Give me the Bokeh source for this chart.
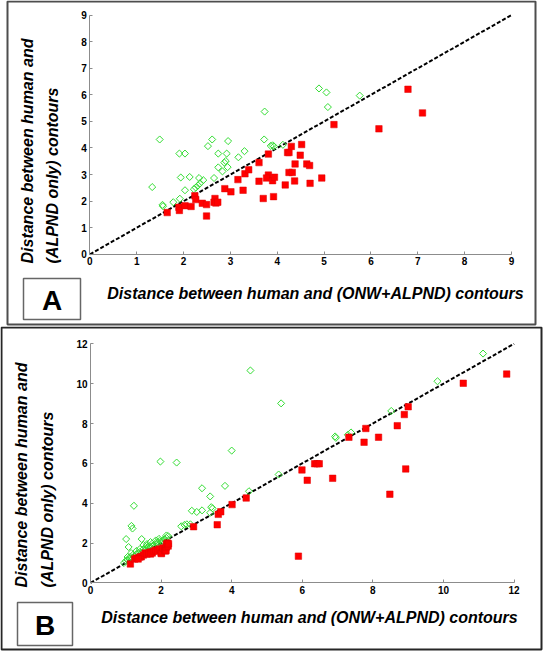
import math
from bokeh.plotting import figure
from bokeh.models import Range1d, FixedTicker, Label, BoxAnnotation
from bokeh.layouts import column
from bokeh.embed import file_html
from bokeh.resources import INLINE

# ---------------- data ----------------
a_ticks = [0, 1, 2, 3, 4, 5, 6, 7, 8, 9]
b_ticks = [0, 2, 4, 6, 8, 10, 12]

a_red_x = [1.65, 1.90, 1.91, 2.03, 2.16, 2.24, 2.26, 2.40, 2.49, 2.49, 2.67, 2.65, 2.69, 2.73,
           2.88, 3.01, 3.16, 3.27, 3.31, 3.39, 3.61, 3.61, 3.70, 3.81, 3.81, 3.77, 3.90, 3.94,
           3.92, 4.17, 4.22, 4.25, 4.30, 4.52, 4.49, 4.38, 4.37, 4.25, 4.32, 4.63, 4.69, 4.70,
           4.95, 5.21, 6.17, 6.79, 7.10]
a_red_y = [1.57, 1.77, 1.65, 1.83, 1.80, 2.20, 2.06, 1.92, 1.87, 1.44, 2.10, 1.96, 1.93, 1.96,
           2.47, 2.35, 2.81, 2.41, 3.03, 3.18, 3.45, 2.75, 2.10, 3.77, 2.98, 2.87, 2.77, 2.90,
           2.17, 2.61, 3.83, 3.83, 4.06, 4.13, 3.73, 3.40, 2.76, 3.08, 3.08, 3.40, 3.34, 2.67,
           2.87, 4.88, 4.72, 6.21, 5.32]

a_green_x = [1.33, 1.49, 1.55, 1.56, 1.78, 1.91, 2.03, 1.92, 1.94, 2.03, 2.13, 2.22, 2.26, 2.31,
             2.35, 2.33, 2.42, 2.52, 2.61, 2.65, 2.74, 2.74, 2.83, 2.87, 2.90, 2.92, 2.94, 2.95,
             3.17, 3.30, 3.72, 3.73, 3.86, 3.90, 3.93, 4.12, 4.89, 5.05, 5.08, 5.76]
a_green_y = [2.53, 4.32, 1.86, 1.81, 1.96, 3.79, 3.79, 2.09, 2.89, 2.41, 2.91, 2.45, 2.51, 2.59,
             2.67, 2.87, 2.79, 4.07, 4.32, 2.87, 3.79, 3.27, 3.12, 3.45, 3.51, 3.79, 3.28, 4.26,
             3.65, 3.88, 4.32, 5.37, 4.08, 4.10, 4.06, 4.12, 6.24, 6.09, 5.54, 5.97]

b_red_x = [1.13, 1.44, 1.25, 1.30, 1.40, 1.50, 1.55, 1.60, 1.65, 1.70, 1.70, 1.75, 1.80, 1.85,
           1.90, 1.95, 2.00, 2.01, 2.05, 2.10, 2.12, 2.14, 2.15, 2.15, 2.18, 2.20, 2.21, 1.35,
           2.92, 3.59, 3.62, 3.69, 4.01, 4.41, 5.89, 5.99, 6.14, 6.35, 6.42, 6.48, 6.86, 7.32,
           7.75, 7.80, 8.16, 8.48, 8.69, 8.89, 9.00, 8.93, 10.56, 11.79]
b_red_y = [0.95, 1.31, 1.20, 1.25, 1.30, 1.40, 1.50, 1.45, 1.50, 1.55, 1.45, 1.50, 1.60, 1.65,
           1.60, 1.70, 1.50, 1.47, 1.75, 1.65, 1.60, 1.63, 1.80, 1.95, 2.00, 1.85, 1.96, 1.20,
           2.82, 2.92, 3.44, 3.57, 3.93, 4.26, 1.34, 5.67, 5.15, 5.98, 5.98, 5.98, 5.25, 7.31,
           7.06, 7.75, 7.31, 4.45, 7.89, 8.45, 8.84, 5.72, 10.02, 10.48]

b_green_x = [0.95, 1.00, 1.05, 1.10, 1.12, 1.18, 1.20, 1.25, 1.30, 1.35, 1.40, 1.45, 1.50, 1.50,
             1.55, 1.60, 1.65, 1.70, 1.75, 1.80, 1.85, 1.90, 1.95, 2.00, 2.05, 2.10, 2.15, 2.20,
             1.30, 1.40, 1.15, 1.05, 1.60, 1.70, 1.23, 1.16, 1.19, 1.01, 1.08, 1.45, 1.59, 1.75,
             1.94, 2.15, 2.05, 1.85, 1.98, 2.44, 2.57, 2.66, 2.73, 2.83, 2.87, 3.01, 3.16, 3.16,
             3.39, 3.42, 3.46, 3.39, 3.81, 4.00, 4.49, 4.53, 5.33, 5.40, 6.93, 6.95, 7.29, 7.38,
             8.52, 9.83, 11.12]
b_green_y = [1.00, 1.10, 1.15, 1.20, 1.30, 1.25, 1.40, 1.35, 1.45, 1.50, 1.55, 1.50, 1.70, 1.90,
             1.65, 1.75, 1.80, 1.80, 1.85, 1.90, 2.00, 2.00, 2.10, 2.05, 2.15, 2.20, 2.25, 2.35,
             1.60, 1.70, 1.50, 1.30, 1.95, 2.05, 3.87, 2.86, 2.73, 2.20, 1.80, 2.20, 1.85, 1.97,
             2.21, 2.38, 2.05, 2.13, 6.09, 6.04, 2.84, 2.91, 2.94, 2.94, 3.62, 3.56, 3.64, 4.75,
             4.34, 3.80, 3.74, 3.52, 4.87, 6.64, 4.60, 10.66, 5.44, 9.01, 7.35, 7.28, 7.43, 7.55,
             8.63, 10.12, 11.51]

y_label_1 = "Distance between human and"
y_label_2 = "(ALPND only) contours"
x_label = "Distance between human and (ONW+ALPND) contours"

FONT = "Liberation Sans"
W = 543


def make_panel(letter, ticks, rx, ry, gx, gy, H, px0, px1, py_top, py_bot,
               border, letter_box, xlab_c, ylab_x1, ylab_x2, ylab_bottom, border_color):
    lo, hi = ticks[0], ticks[-1]
    fw = px1 - px0
    fh = py_bot - py_top
    # the frame covers the whole canvas; ranges are widened so that lo..hi lands on the plot box
    xr = Range1d(lo - px0 / fw * (hi - lo), hi + (W - px1) / fw * (hi - lo))
    yr = Range1d(lo - (H - py_bot) / fh * (hi - lo), hi + py_top / fh * (hi - lo))
    p = figure(width=W, height=H, output_backend="svg", toolbar_location=None,
               x_range=xr, y_range=yr, min_border=0, title=None)
    p.outline_line_color = None
    p.grid.visible = False
    p.background_fill_color = "white"
    p.border_fill_color = "white"
    for ax in (p.xaxis[0], p.yaxis[0]):
        ax.fixed_location = 0
        ax.bounds = (lo, hi)
        ax.ticker = FixedTicker(ticks=ticks)
        ax.axis_line_color = "#8c8c8c"
        ax.major_tick_line_color = "#8c8c8c"
        ax.major_tick_in = 3
        ax.major_tick_out = 0
        ax.minor_tick_line_color = None
        ax.major_label_text_font = FONT
        ax.major_label_text_font_style = "bold"
        ax.major_label_text_font_size = "10px"
        ax.major_label_text_color = "black"
        ax.major_label_standoff = 3

    p.line(x=[lo, hi], y=[lo, hi], line_color="black", line_width=2, line_dash="4 2")
    p.scatter(x=gx, y=gy, marker="square", angle=math.pi / 4, size=5,
              fill_color=None, line_color="#33dd33", line_width=1)
    p.scatter(x=rx, y=ry, marker="square", size=6.5, fill_color="#ff0000",
              line_color="#e00000", line_width=0.5)

    bx0, by0, bx1, by1 = border
    p.add_layout(BoxAnnotation(left=bx0, right=bx1, top=by0, bottom=by1,
                               left_units="canvas", right_units="canvas",
                               top_units="canvas", bottom_units="canvas",
                               fill_alpha=0, line_color=border_color, line_alpha=1,
                               line_dash="solid", line_width=2, editable=False))
    lx0, ly0, lx1, ly1 = letter_box
    p.add_layout(BoxAnnotation(left=lx0, right=lx1, top=ly0, bottom=ly1,
                               left_units="canvas", right_units="canvas",
                               top_units="canvas", bottom_units="canvas",
                               fill_color="white", fill_alpha=1, line_color="#666666",
                               line_alpha=1, line_dash="solid", line_width=1.5,
                               editable=False))
    p.add_layout(Label(x=(lx0 + lx1) / 2, y=(ly0 + ly1) / 2 + 1,
                       x_units="canvas", y_units="canvas", text=letter,
                       text_font=FONT, text_font_style="bold",
                       text_font_size="28px", text_align="center",
                       text_baseline="middle", text_color="black"))
    p.add_layout(Label(x=xlab_c[0], y=xlab_c[1], x_units="canvas", y_units="canvas",
                       text=x_label, text_font=FONT, text_font_style="bold italic",
                       text_font_size="16px", text_align="center", text_baseline="middle",
                       text_color="black"))
    for txt, xx in ((y_label_1, ylab_x1), (y_label_2, ylab_x2)):
        p.add_layout(Label(x=xx, y=ylab_bottom, x_units="canvas", y_units="canvas",
                           text=txt, angle=math.pi / 2, text_font=FONT,
                           text_font_style="bold italic", text_font_size="16px",
                           text_align="left", text_baseline="middle", text_color="black"))
    return p


pa = make_panel("A", a_ticks, a_red_x, a_red_y, a_green_x, a_green_y,
                H=326, px0=89.4, px1=511, py_top=14.6, py_bot=253.8,
                border=(7, 1, 535, 324), letter_box=(23, 278, 80, 319),
                xlab_c=(315, 293), ylab_x1=27, ylab_x2=52, ylab_bottom=263,
                border_color="#4d4d4d")
pb = make_panel("B", b_ticks, b_red_x, b_red_y, b_green_x, b_green_y,
                H=325, px0=90, px1=513.6, py_top=17.3, py_bot=256.4,
                border=(1, 1, 541, 323), letter_box=(17, 276, 72, 319),
                xlab_c=(309, 291), ylab_x1=21, ylab_x2=47, ylab_bottom=261,
                border_color="#262626")

layout = column(pa, pb, spacing=0)
open("out.html", "w").write(file_html(layout, INLINE))
